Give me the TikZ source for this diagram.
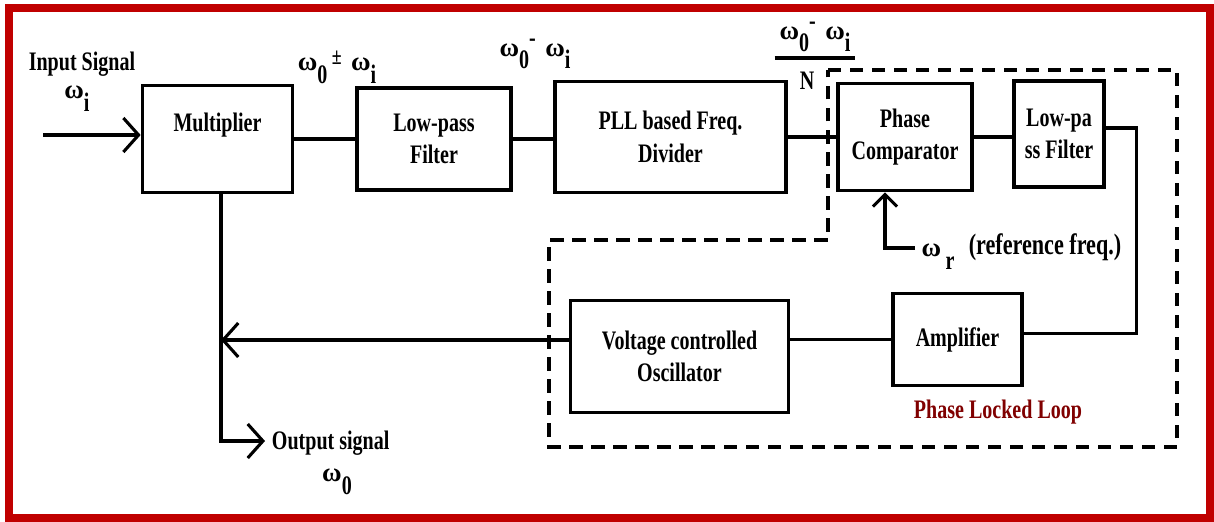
\documentclass[tikz,border=0pt]{standalone}
\usepackage{fontspec}
\setmainfont{Liberation Serif}[FakeStretch=0.75]
\newfontfamily\omfont{Liberation Serif}
\usetikzlibrary{arrows.meta}

\definecolor{framered}{RGB}{192,0,0}
\definecolor{loopred}{RGB}{128,0,0}
\newcommand{\omsub}[1]{{\omfont\fontsize{19}{23}\selectfont ω}\raisebox{-9pt}{#1}}

\begin{document}
\begin{tikzpicture}[
        x=0.025cm, y=-0.025cm,
        every node/.style={font=\fontsize{19}{23}\selectfont\bfseries},
        blockbox/.style={rectangle, draw=black, line width=2.6pt, fill=white, align=center, inner sep=2pt},
        wire/.style={line width=2.2pt, draw=black},
        arrow/.style={wire, -{Straight Barb[length=0.38cm, width=0.85cm]}},
        refarrow/.style={wire, -{Straight Barb[length=0.3cm, width=0.6cm]}},
        pllbox/.style={line width=2.3pt, dash pattern=on 0.33cm off 0.22cm}
        ]
        \useasboundingbox (0,0) rectangle (1214,521);
        \draw[framered, line width=0.2cm] (9,8) rectangle (1210,518);

        % Phase locked loop outline
        \draw[pllbox] (828,70) -- (1177,70) -- (1177,447) -- (549,447) -- (549,240) -- (828,240) -- cycle;

        % Blocks
        \node[blockbox, minimum width=3.75cm, minimum height=2.675cm, text depth=0.85cm] (mult) at (217.5,139) {Multiplier};
        \node[blockbox, minimum width=3.85cm, minimum height=2.55cm] (lpfa) at (434,139) {Low-pass\\Filter};
        \node[blockbox, minimum width=5.775cm, minimum height=2.775cm] (divider) at (670.5,137) {PLL based Freq.\\Divider};
        \node[blockbox, minimum width=3.35cm, minimum height=2.675cm] (phcomp) at (905,137) {Phase\\Comparator};
        \node[blockbox, minimum width=2.25cm, minimum height=2.65cm] (lpfb) at (1059,134) {Low-pa\\ss Filter};
        \node[blockbox, minimum width=3.225cm, minimum height=2.3cm] (amp) at (957.5,339.5) {Amplifier};
        \node[blockbox, minimum width=5.45cm, minimum height=2.8cm] (vco) at (679.5,356.5) {Voltage controlled\\Oscillator};

        % Signal labels
        \node (insig) at (82,64) {Input Signal};
        \node (inom) at (77,99) {\omsub{i}};
        \node (sumlbl) at (337,67) {\omsub{0}\,\raisebox{0.5ex}{\fontsize{17}{17}\selectfont±}\, \omsub{i}};
        \node (difflbl) at (535,54) {\omsub{0}\raisebox{0.8ex}{-}\, \omsub{i}};
        \node[anchor=south, minimum width=2cm, inner ysep=4pt] (fracnum) at (815,58) {\omsub{0}\raisebox{0.8ex}{-}\, \omsub{i}};
        \node (ndiv) at (807,81) {N};
        \node (omr) at (938,257) {\omsub{\,r}};
        \node (reflbl) at (1045,247) {\fontsize{21}{23}\selectfont (reference freq.)};
        \node[anchor=west] (outlbl) at (267,443) {Output signal};
        \node (outom) at (337,482) {\omsub{0}};
        \node[text=loopred] (plllbl) at (998,412) {Phase Locked Loop};

        % Connections
        \coordinate (inpt) at (43,135);
        \coordinate (tap) at (221,340);
        \coordinate (outc) at (221,441);
        \coordinate (outtip) at (265,441);
        \coordinate (refin) at (915,248);
        \draw[wire] (fracnum.south west) -- (fracnum.south east);
        \draw[arrow] (inpt) -- (inpt -| mult.west);
        \draw[wire] (mult.east) -- (lpfa.west);
        \draw[wire] (lpfa.east) -- (lpfa.east -| divider.west);
        \draw[wire] (divider.east) -- (phcomp.west);
        \draw[wire] (phcomp.east) -- (phcomp.east -| lpfb.west);
        \draw[wire] ([yshift=0.15cm]lpfb.east) -- ++(31,0) |- ([yshift=0.15cm]amp.east);
        \draw[wire] (amp.west) -- (amp.west -| vco.east);
        \draw[arrow] (tap -| vco.west) -- (tap);
        \draw[arrow] (tap |- mult.south) -- (outc) -- (outtip);
        \draw[refarrow] (refin) -| ([xshift=-0.5cm]phcomp.south);

    \end{tikzpicture}
\end{document}
